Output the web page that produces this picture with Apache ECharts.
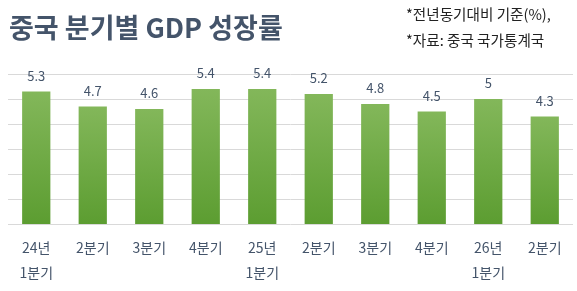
<!DOCTYPE html>
<html>
<head>
<meta charset="utf-8">
<script src="https://cdn.jsdelivr.net/npm/echarts@6/dist/echarts.min.js"></script>
<style>
  html, body { margin: 0; padding: 0; background: #fff; }
  #chart { width: 577px; height: 291px; }
</style>
</head>
<body>
<div id="chart"></div>
<script>
// 분기 라벨 (연도 + 분기)
const categories = ['24년\n1분기', '2분기', '3분기', '4분기', '25년\n1분기', '2분기', '3분기', '4분기', '26년\n1분기', '2분기'];
// 전년동기대비 GDP 성장률 (%)
const growth = [5.3, 4.7, 4.6, 5.4, 5.4, 5.2, 4.8, 4.5, 5, 4.3];
const titleText = '중국 분기별 GDP 성장률';
const notes = ['*전년동기대비 기준(%),', '*자료: 중국 국가통계국'];

const font = '"Noto Sans CJK KR", "Noto Sans", sans-serif';

const option = {
  animation: false,
  textStyle: { fontFamily: font },
  title: {
    text: titleText,
    left: 4,
    top: 9,
    textStyle: { fontFamily: font, fontSize: 27, fontWeight: 'bold', color: '#44546a' }
  },
  graphic: notes.map((t, i) => ({
    type: 'text',
    left: 406,
    top: 7 + i * 26,
    style: { text: t, font: '14.6px ' + font, fill: '#222' }
  })),
  grid: { left: 8, right: 4, top: 74, bottom: 67 },
  xAxis: {
    type: 'category',
    data: categories,
    axisLine: { show: false }, // 축선 숨김
    axisTick: { show: false },
    axisLabel: { color: '#44546a', fontSize: 14, lineHeight: 25, margin: 11, interval: 0 }
  },
  yAxis: {
    type: 'value',
    min: 0,
    max: 6,
    interval: 1,
    axisLabel: { show: false },
    splitLine: { lineStyle: { color: '#d9d9d9' } }
  },
  series: [
    {
      type: 'bar',
      data: growth,
      barWidth: '50%',
      itemStyle: {
        color: new echarts.graphic.LinearGradient(0, 0, 0, 1, [
          { offset: 0, color: '#83b75a' },
          { offset: 1, color: '#5c9d31' }
        ])
      },
      label: { show: true, position: 'top', distance: 9, color: '#44546a', fontSize: 13 }
    }
  ]
};

const mychart = echarts.init(document.getElementById('chart'));
mychart.setOption(option);
</script>
</body>
</html>
